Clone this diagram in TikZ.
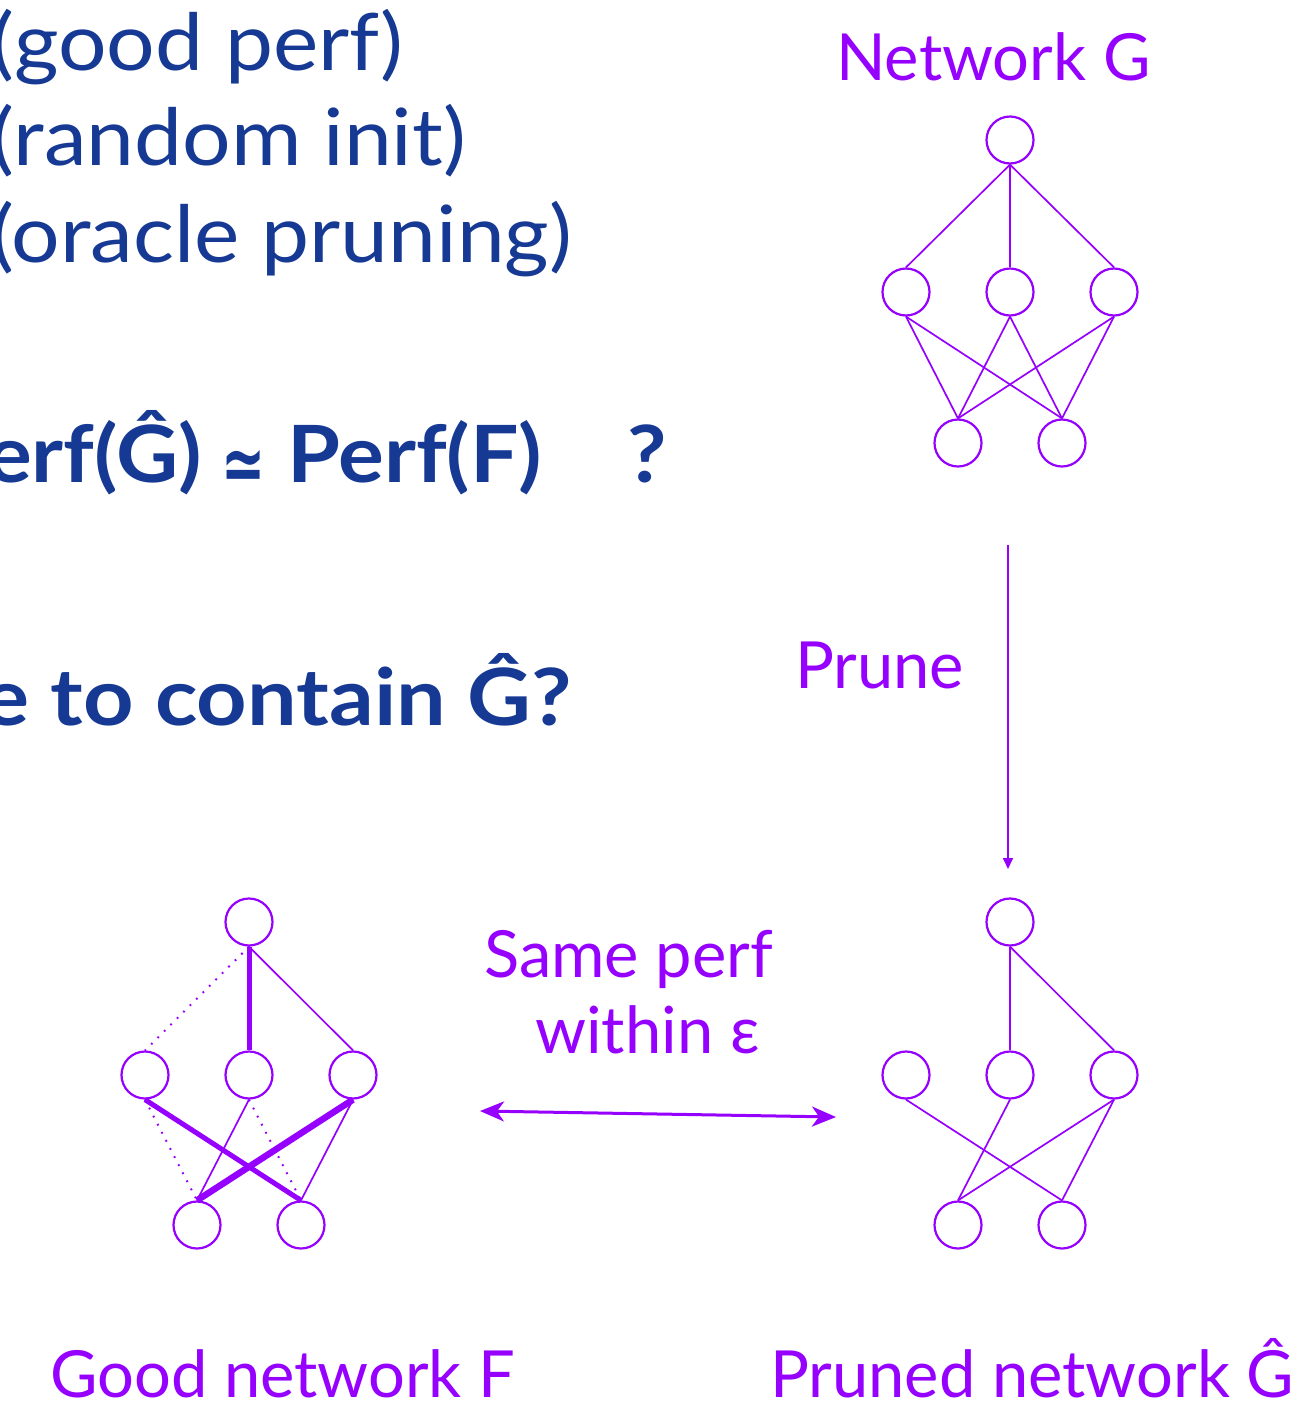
\documentclass[tikz,border=0pt]{standalone}
\usepackage{fontspec}
\setmainfont{Lato}
\newfontfamily\symfont{DejaVu Sans}
\usetikzlibrary{arrows.meta}
\definecolor{netpurple}{RGB}{150,0,255}
\definecolor{titleblue}{RGB}{22,57,148}
% wide setting of the blue headline text
\newcommand{\widetxt}[1]{\scalebox{1.085}[1]{#1}}

\begin{document}
\begin{tikzpicture}[x=1pt,y=-1pt,
  neuron/.style={circle, draw=netpurple, line width=2.2pt, minimum size=47pt, inner sep=0pt},
  link/.style={draw=netpurple, line width=1.7pt},
  heavy/.style={draw=netpurple, line width=5pt},
  heavier/.style={draw=netpurple, line width=6.5pt},
  faint/.style={draw=netpurple, line width=2pt, dash pattern=on 1.8pt off 7.3pt},
  lbl/.style={text=netpurple, font=\fontsize{65}{80}\selectfont, anchor=base west, inner sep=0pt},
  bluetxt/.style={text=titleblue, font=\fontsize{79}{90}\selectfont, anchor=base west, inner sep=0pt},
  boldtxt/.style={text=titleblue, font=\fontsize{79}{90}\selectfont\bfseries, anchor=base west, inner sep=0pt},
  flow/.style={draw=netpurple, line width=1.8pt, -{Triangle[length=11pt,width=10pt]}},
  compare/.style={draw=netpurple, line width=3pt,
    {Stealth[length=24pt,width=20pt,inset=7pt]}-{Stealth[length=24pt,width=20pt,inset=7pt]}}
]
\useasboundingbox (0,0) rectangle (1296,1401);
\clip (0,0) rectangle (1296,1401);

% ---- left column text ----
\node[bluetxt] (t1) at (-9,70) {\widetxt{(good perf)}};
\node[bluetxt] (t2) at (-9,165) {\widetxt{(random init)}};
\node[bluetxt] (t3) at (-9,262) {\widetxt{(oracle pruning)}};
\node[boldtxt] (q1) at (-14,482) {\widetxt{erf(Ĝ)}};
\node[text=titleblue, font=\fontsize{62}{70}\selectfont\symfont\bfseries, anchor=base west, inner sep=0pt] (q2) at (221,490) {\scalebox{0.85}[1.25]{≃}};
\node[boldtxt] (q3) at (287,482) {\widetxt{Perf(F)}};
\node[boldtxt] (q4) at (627,482) {\widetxt{?}};
\node[boldtxt] (q5) at (-18,725) {\scalebox{1.115}[1]{e to contain Ĝ?}};

% ---- network G ----
\node[lbl] (gl) at (836,80) {Network G};
\node[neuron] (g0) at (1010,140) {};
\node[neuron] (g1) at (906,292) {};
\node[neuron] (g2) at (1010,292) {};
\node[neuron] (g3) at (1114,292) {};
\node[neuron] (g4) at (958,443) {};
\node[neuron] (g5) at (1062,443) {};
\foreach \m in {g1,g2,g3} \draw[link] (g0.south) -- (\m.north);
\foreach \m in {g1,g2,g3} \foreach \b in {g4,g5} \draw[link] (\m.south) -- (\b.north);

% ---- prune arrow ----
\coordinate (pa) at (1008,545);
\coordinate (pb) at (1008,869);
\draw[flow] (pa) -- (pb);
\node[lbl] (pl) at (795,688) {Prune};

% ---- pruned network ----
\node[neuron] (h0) at (1010,922) {};
\node[neuron] (h1) at (906,1075) {};
\node[neuron] (h2) at (1010,1075) {};
\node[neuron] (h3) at (1114,1075) {};
\node[neuron] (h4) at (958,1225) {};
\node[neuron] (h5) at (1062,1225) {};
\draw[link] (h0.south) -- (h2.north);
\draw[link] (h0.south) -- (h3.north);
\draw[link] (h1.south) -- (h5.north);
\draw[link] (h2.south) -- (h4.north);
\draw[link] (h3.south) -- (h4.north);
\draw[link] (h3.south) -- (h5.north);
\node[lbl] (hl) at (770,1397) {Pruned network Ĝ};

% ---- good network F ----
\node[neuron] (f0) at (249,922) {};
\node[neuron] (f1) at (145,1075) {};
\node[neuron] (f2) at (249,1075) {};
\node[neuron] (f3) at (353,1075) {};
\node[neuron] (f4) at (197,1225) {};
\node[neuron] (f5) at (301,1225) {};
\draw[faint] (f0.south) -- (f1.north);
\draw[heavy] (f0.south) -- (f2.north);
\draw[link] (f0.south) -- (f3.north);
\draw[faint] (f1.south) -- (f4.north);
\draw[heavy] (f1.south) -- (f5.north);
\draw[link] (f2.south) -- (f4.north);
\draw[faint] (f2.south) -- (f5.north);
\draw[heavier] (f3.south) -- (f4.north);
\draw[link] (f3.south) -- (f5.north);
\node[lbl] (fl) at (50,1397) {Good network F};

% ---- comparison ----
\coordinate (cl) at (480,1111);
\coordinate (cr) at (836,1117);
\draw[compare] (cl) -- (cr);
\node[lbl] (s1) at (484,977) {Same perf};
\node[lbl] (s2) at (535,1053) {within ε};
\end{tikzpicture}
\end{document}
